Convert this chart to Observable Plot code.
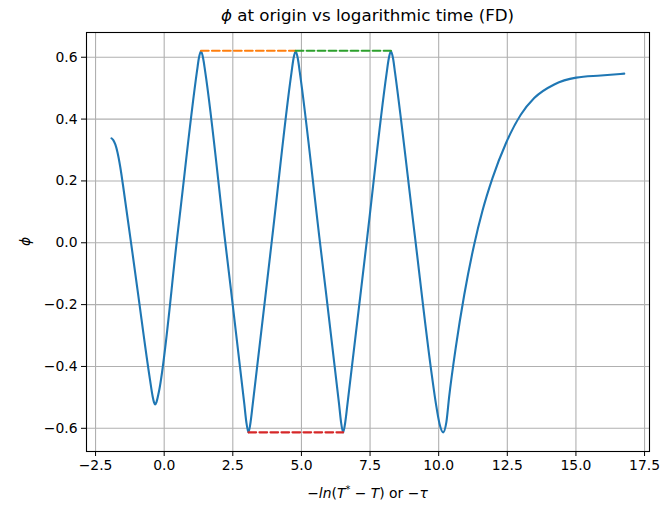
<!DOCTYPE html>
<html>
<head>
<meta charset="utf-8">
<script src="https://cdn.jsdelivr.net/npm/d3@7"></script>
<script src="https://cdn.jsdelivr.net/npm/@observablehq/plot@0.6"></script>
<style>
  html, body { margin: 0; padding: 0; background: #fff; }
  #chart svg { display: block; font-family: "DejaVu Sans", sans-serif; }
</style>
</head>
<body>
<div id="chart"></div>
<script>
// phi at origin vs -ln(T* - T)
const phiX = [-1.92, -1.86, -1.78, -1.70, -1.60, -1.50, -0.98, -0.52, -0.42, -0.37, -0.33, -0.28, -0.20,
  0.50, 1.20, 1.26, 1.34, 1.42, 1.49,
  2.20, 2.92, 2.99, 3.07, 3.15, 3.22,
  3.93, 4.64, 4.71, 4.79, 4.87, 4.94,
  5.65, 6.37, 6.44, 6.52, 6.60, 6.67,
  7.40, 8.10, 8.18, 8.26, 8.34, 8.41,
  9.10, 9.75, 9.90, 10.03, 10.16, 10.28, 10.38,
  10.63, 10.93, 11.29, 11.60, 11.96, 12.45, 12.99, 13.48, 14.21, 15.01, 15.91, 16.76];
const phiY = [0.338, 0.333, 0.318, 0.292, 0.245, 0.186, -0.147, -0.441, -0.497, -0.516, -0.523, -0.515, -0.485,
  0.037, 0.558, 0.595, 0.620, 0.596, 0.556,
  0.021, -0.522, -0.578, -0.613, -0.578, -0.527,
  0.013, 0.552, 0.595, 0.620, 0.595, 0.552,
  0.020, -0.521, -0.578, -0.613, -0.578, -0.527,
  0.020, 0.546, 0.595, 0.620, 0.595, 0.550,
  0.046, -0.428, -0.521, -0.585, -0.613, -0.580, -0.499,
  -0.334, -0.169, -0.007, 0.105, 0.209, 0.322, 0.414, 0.468, 0.512, 0.534, 0.541, 0.547];

// dashed reference segments (peak-to-peak / trough-to-trough)
const orangeX = [1.34, 4.79];
const orangeY = [0.621, 0.621];
const greenX = [4.79, 8.26];
const greenY = [0.621, 0.621];
const redX = [3.07, 6.52];
const redY = [-0.613, -0.613];

const xTicks = [-2.5, 0, 2.5, 5, 7.5, 10, 12.5, 15, 17.5];
const yTicks = [-0.6, -0.4, -0.2, 0, 0.2, 0.4, 0.6];

const curve = phiX.map((x, i) => ({x, y: phiY[i]}));
const seg = (xs, ys) => xs.map((x, i) => ({x, y: ys[i]}));

const fmt = d3.format(".1f");
const W = 660, H = 508;
const mL = 86, mR = 11, mT = 32, mB = 57;

const chart = Plot.plot({
  width: W,
  height: H,
  marginLeft: mL,
  marginRight: mR,
  marginTop: mT,
  marginBottom: mB,
  style: {fontFamily: "DejaVu Sans, sans-serif", fontSize: "13.9px", background: "#fff", color: "#000"},
  x: {domain: [-2.83, 17.68]},
  y: {domain: [-0.675, 0.680]},
  marks: [
    Plot.gridX(xTicks, {stroke: "#b0b0b0", strokeOpacity: 1, strokeWidth: 1.1}),
    Plot.gridY(yTicks, {stroke: "#b0b0b0", strokeOpacity: 1, strokeWidth: 1.1}),
    Plot.line(curve, {x: "x", y: "y", stroke: "#1f77b4", strokeWidth: 2.1, curve: "monotone-x"}),
    Plot.line(seg(orangeX, orangeY), {x: "x", y: "y", stroke: "#ff7f0e", strokeWidth: 2.1, strokeDasharray: "7.7,3.3"}),
    Plot.line(seg(greenX, greenY), {x: "x", y: "y", stroke: "#2ca02c", strokeWidth: 2.1, strokeDasharray: "7.7,3.3"}),
    Plot.line(seg(redX, redY), {x: "x", y: "y", stroke: "#d62728", strokeWidth: 2.1, strokeDasharray: "7.7,3.3"}),
    Plot.frame({stroke: "#000", strokeWidth: 1.1}),
    Plot.axisX({ticks: xTicks, tickFormat: fmt, tickSize: 5, tickPadding: 4, label: null, fontSize: 13.9}),
    Plot.axisY({ticks: yTicks, tickFormat: fmt, tickSize: 5, tickPadding: 4, label: null, fontSize: 13.9})
  ]
});

document.getElementById("chart").appendChild(chart);

// Title and axis labels (mathtext-like)
const svg = d3.select(chart);
const cx = mL + (W - mL - mR) / 2;

const title = svg.append("text")
  .attr("x", cx).attr("y", 21)
  .attr("text-anchor", "middle")
  .attr("font-family", "DejaVu Sans, sans-serif")
  .attr("font-size", 16.7)
  .attr("fill", "#000");
title.append("tspan").attr("font-style", "italic").text("ϕ");
title.append("tspan").text(" at origin vs logarithmic time (FD)");

const xl = svg.append("text")
  .attr("x", cx).attr("y", 498)
  .attr("text-anchor", "middle")
  .attr("font-family", "DejaVu Sans, sans-serif")
  .attr("font-size", 13.9)
  .attr("fill", "#000");
xl.append("tspan").text("−");
xl.append("tspan").attr("font-style", "italic").text("ln");
xl.append("tspan").text("(");
xl.append("tspan").attr("font-style", "italic").text("T");
xl.append("tspan").attr("font-size", 9.7).attr("dy", -5).text("*");
xl.append("tspan").attr("dy", 5).text(" − ");
xl.append("tspan").attr("font-style", "italic").text("T");
xl.append("tspan").text(") or −");
xl.append("tspan").attr("font-style", "italic").text("τ");

svg.append("text")
  .attr("transform", `translate(30, ${mT + (H - mT - mB) / 2}) rotate(-90)`)
  .attr("text-anchor", "middle")
  .attr("font-family", "DejaVu Sans, sans-serif")
  .attr("font-size", 13.9)
  .attr("font-style", "italic")
  .attr("fill", "#000")
  .text("ϕ");
</script>
</body>
</html>
